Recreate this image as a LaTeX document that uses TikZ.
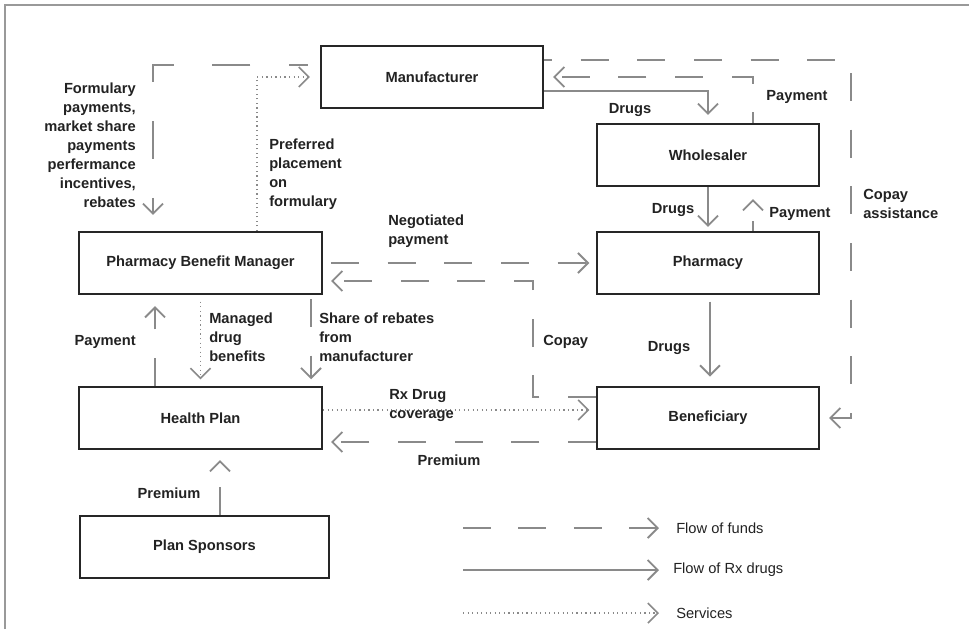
\documentclass[tikz,border=0pt]{standalone}
\usepackage{fontspec}
\setmainfont{Liberation Sans}
\usetikzlibrary{arrows.meta,calc}
\definecolor{boxc}{HTML}{262626}
\definecolor{linec}{HTML}{8A8A8A}
\definecolor{txtc}{HTML}{222222}
\definecolor{framec}{HTML}{999999}
\begin{document}
\begin{tikzpicture}[x=0.75pt,y=-0.75pt,
  ent/.style={draw=boxc,line width=1.6pt,inner sep=0pt,minimum height=46.5pt,
    font=\bfseries\fontsize{11}{14.25}\selectfont,text=txtc},
  lbl/.style={inner sep=0pt,font=\bfseries\fontsize{11}{14.25}\selectfont,text=txtc},
  leg/.style={inner sep=0pt,anchor=west,font=\fontsize{11}{14}\selectfont,text=txtc},
  conn/.style={draw=linec,line width=1.4pt,-{Straight Barb[length=7.5pt,width=15pt]}},
  fund/.style={conn,dash pattern=on 21pt off 21.5pt},
  drug/.style={conn},
  serv/.style={conn,line width=1.2pt,dash pattern=on 0.9pt off 2.5pt}]
\useasboundingbox (0,0) rectangle (969,629);
% frame
\draw[framec,line width=1.5pt] (5,629) -- (5,5) -- (969,5);
% boxes
\node[ent,minimum width=166.5pt] (mf) at (432,77) {Manufacturer};
\node[ent,minimum width=166.5pt] (ws) at (708,155) {Wholesaler};
\node[ent,minimum width=166.5pt] (ph) at (708,263) {Pharmacy};
\node[ent,minimum width=182.25pt] (pbm) at (200.5,263) {Pharmacy Benefit Manager};
\node[ent,minimum width=182.25pt] (hp) at (200.5,418) {Health Plan};
\node[ent,minimum width=166.5pt] (bn) at (708,418) {Beneficiary};
\node[ent,minimum width=186.75pt] (ps) at (204.5,547) {Plan Sponsors};
% connectors
\draw[drug,shorten >=6pt] ([yshift=-10.5pt]mf.east) -| (ws.north);
\draw[fund,shorten >=6.75pt,dash phase=13pt] ([xshift=33.75pt]ws.north) |- (mf.east);
\draw[fund,shorten >=6.75pt,dash phase=15pt] ([yshift=12.75pt]mf.east) -- ++(307,0) |- (bn.east);
\draw[drug,shorten >=3pt] (ws.south) -- (ph.north);
\draw[fund,shorten >=9pt,dash phase=13.5pt] ([xshift=33.75pt]ph.north) -- ([xshift=33.75pt]ws.south);
\draw[drug,shorten <=5pt,shorten >=7pt] ([xshift=1.5pt]ph.south) -- ([xshift=1.5pt]bn.north);
\draw[fund,shorten <=6pt,shorten >=5pt] (pbm.east) -- (ph.west);
\draw[fund,shorten >=6pt] ([yshift=15.75pt]bn.west) -- ++(-63,0) |- ([yshift=-13.5pt]pbm.east);
\draw[serv,shorten >=7.5pt] ([xshift=42.4pt]pbm.north) |- (mf.west);
\draw[conn,dash pattern=on 28.5pt off 29pt,dash phase=14.25pt,shorten <=9pt,shorten >=12pt] ([yshift=9pt]mf.west) -| ([xshift=-35.6pt]pbm.north);
\draw[fund,shorten >=8.25pt] ([xshift=-34.1pt]hp.north) -- ([xshift=-34.1pt]pbm.south);
\draw[serv,shorten <=5pt,shorten >=5pt] (pbm.south) -- (hp.north);
\draw[fund,shorten <=3pt,shorten >=5pt] ([xshift=82.9pt]pbm.south) -- ([xshift=82.9pt]hp.north);
\draw[serv,shorten >=5pt] ([yshift=6pt]hp.east) -- ([yshift=6pt]bn.west);
\draw[fund,shorten >=6pt] ([yshift=-18pt]bn.west) -- ([yshift=-18pt]hp.east);
\coordinate (psa) at ($(ps.north)+(15.5,0)$);
\draw[fund,shorten >=7.5pt] (psa) -- (psa |- hp.south);
% labels
\node[lbl] (l1) at (630,110) {Drugs};
\node[lbl] (l2) at (797,97) {Payment};
\node[lbl,anchor=west,align=left] (l3) at (863,204) {Copay\\assistance};
\node[lbl] (l4) at (673,210) {Drugs};
\node[lbl] (l5) at (800,214) {Payment};
\node[lbl,anchor=west,align=left] (l6) at (388,231) {Negotiated\\payment};
\node[lbl,anchor=west] (l7) at (543,342) {Copay};
\node[lbl] (l8) at (669,348) {Drugs};
\node[lbl,anchor=west,align=left] (l9) at (269,174) {Preferred\\placement\\on\\formulary};
\node[lbl,anchor=east,align=right] (l10) at (136,145) {Formulary\\payments,\\market share\\payments\\perfermance\\incentives,\\rebates};
\node[lbl,anchor=east] (l11) at (136,342) {Payment};
\node[lbl,anchor=west,align=left] (l12) at (209,337) {Managed\\drug\\benefits};
\node[lbl,anchor=west,align=left] (l13) at (319,337) {Share of rebates\\from\\manufacturer};
\node[lbl,anchor=west,align=left] (l14) at (389,405) {Rx Drug\\coverage};
\node[lbl] (l15) at (449,460) {Premium};
\node[lbl] (l16) at (169,493) {Premium};
% legend
\coordinate (a1) at (463,528); \coordinate (b1) at (659,528);
\coordinate (a2) at (463,570); \coordinate (b2) at (659,570);
\coordinate (a3) at (463,613); \coordinate (b3) at (659,613);
\draw[conn,dash pattern=on 21pt off 20.6pt] (a1) -- (b1);
\draw[drug] (a2) -- (b2);
\draw[serv] (a3) -- (b3);
\node[leg] (t1) at (676,528) {Flow of funds};
\node[leg] (t2) at (673,570) {Flow of Rx drugs};
\node[leg] (t3) at (676,613) {Services};
\end{tikzpicture}
\end{document}
